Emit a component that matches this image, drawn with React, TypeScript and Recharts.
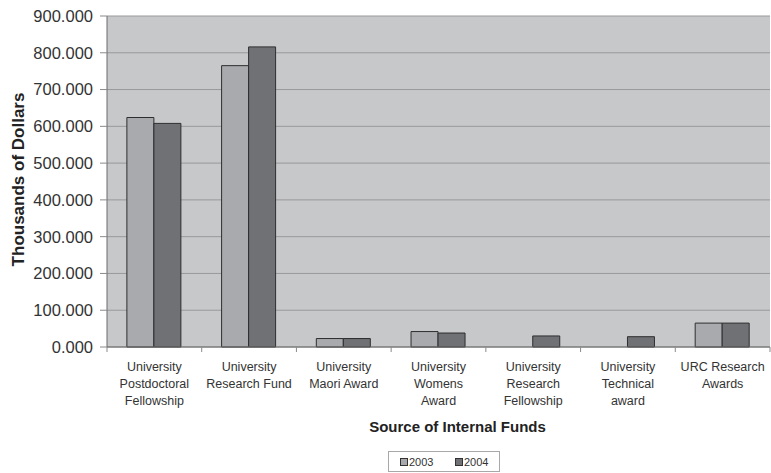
import React from 'react';
import { BarChart, Bar, XAxis, YAxis, CartesianGrid, Legend } from 'recharts';

const categoryLines: string[][] = [
  ['University', 'Postdoctoral', 'Fellowship'],
  ['University', 'Research Fund'],
  ['University', 'Maori Award'],
  ['University', 'Womens', 'Award'],
  ['University', 'Research', 'Fellowship'],
  ['University', 'Technical', 'award'],
  ['URC Research', 'Awards'],
];
const values2003: (number | null)[] = [624, 765, 23, 42, null, null, 65];
const values2004: (number | null)[] = [608, 816, 23, 38, 30, 28, 65];
const yTicks = [0, 100, 200, 300, 400, 500, 600, 700, 800, 900];
const seriesNames = ['2003', '2004'];

const data = categoryLines.map((lines, i) => ({
  name: lines.join(' '),
  v2003: values2003[i],
  v2004: values2004[i],
}));

const W = 771;
const H = 473;
const FONT = '"Liberation Sans", Arial, Helvetica, sans-serif';
const C2003 = '#A9AAAE';
const C2004 = '#707175';
const PLOT_LEFT = 107;
const PLOT_RIGHT = 770;
const BAND = (PLOT_RIGHT - PLOT_LEFT) / categoryLines.length;

const XTick = (props: any) => {
  const { x, y, index } = props;
  const lines = categoryLines[index] || [];
  const last = index === categoryLines.length - 1;
  return (
    <g>
      <line x1={x - BAND / 2} x2={x - BAND / 2} y1={y} y2={y + 5} stroke="#8a8a8a" />
      {last && <line x1={x + BAND / 2} x2={x + BAND / 2} y1={y} y2={y + 5} stroke="#8a8a8a" />}
      <text textAnchor="middle" fill="#333" fontSize={12.5} fontFamily={FONT}>
        {lines.map((l, i) => (
          <tspan key={i} x={x} y={y + 24 + i * 17}>
            {l}
          </tspan>
        ))}
      </text>
    </g>
  );
};

const XTitle = (props: any) => {
  const vb = props.viewBox || {};
  const cx = vb.x + vb.width / 2 + 19;
  return (
    <text x={cx} y={432} textAnchor="middle" fill="#222" fontSize={15} fontWeight="bold" fontFamily={FONT}>
      Source of Internal Funds
    </text>
  );
};

const YTitle = (props: any) => {
  const vb = props.viewBox || {};
  const cy = vb.y + vb.height / 2 - 2;
  const x = 23.5;
  return (
    <text
      x={x}
      y={cy}
      transform={`rotate(-90, ${x}, ${cy})`}
      textAnchor="middle"
      fill="#222"
      fontSize={17}
      fontWeight="bold"
      fontFamily={FONT}
    >
      Thousands of Dollars
    </text>
  );
};

const LegendContent = () => {
  const colors = [C2003, C2004];
  return (
    <div style={{ width: W, height: 26, position: 'relative' }}>
      <div
        style={{
          position: 'absolute',
          left: 388,
          top: 4,
          width: 110,
          height: 19,
          border: '1px solid #a8a8a8',
          background: '#fff',
          fontFamily: FONT,
          fontSize: 11,
          color: '#333',
        }}
      >
        {seriesNames.map((n, i) => (
          <div
            key={n}
            style={{
              position: 'absolute',
              left: 11 + i * 55,
              top: 3,
              display: 'flex',
              alignItems: 'center',
              height: 13,
            }}
          >
            <span
              style={{
                display: 'inline-block',
                width: 6,
                height: 6,
                border: '1px solid #333',
                background: colors[i],
                marginRight: 1,
              }}
            />
            <span>{n}</span>
          </div>
        ))}
      </div>
    </div>
  );
};

export default function App() {
  return (
    <div style={{ position: 'absolute', left: 0, top: 0, width: W, height: H, background: '#fff' }}>
      <BarChart
        width={W}
        height={H}
        data={data}
        margin={{ top: 16, right: 1, bottom: 0, left: 0 }}
        barCategoryGap="21%"
        barGap={0}
      >
        <CartesianGrid vertical={false} stroke="#98999b" fill="#C7C8CA" fillOpacity={1} />
        <XAxis
          dataKey="name"
          height={100}
          interval={0}
          tickLine={false}
          tickSize={0}
          tickMargin={0}
          axisLine={{ stroke: '#6a6a6a' }}
          tick={<XTick />}
          label={<XTitle />}
        />
        <YAxis
          width={107}
          domain={[0, 900]}
          ticks={yTicks}
          interval={0}
          tickFormatter={(v: number) => v.toFixed(3)}
          tickSize={7}
          tickMargin={7}
          axisLine={{ stroke: '#6a6a6a' }}
          tickLine={{ stroke: '#8a8a8a' }}
          tick={{ fontSize: 16.5, fill: '#333', fontFamily: FONT }}
          label={<YTitle />}
        />
        <Legend verticalAlign="bottom" content={<LegendContent />} wrapperStyle={{ left: 0, width: W }} />
        <Bar dataKey="v2003" name={seriesNames[0]} fill={C2003} stroke="#2e2e2e" strokeWidth={1} isAnimationActive={false} />
        <Bar dataKey="v2004" name={seriesNames[1]} fill={C2004} stroke="#2e2e2e" strokeWidth={1} isAnimationActive={false} />
      </BarChart>
    </div>
  );
}
